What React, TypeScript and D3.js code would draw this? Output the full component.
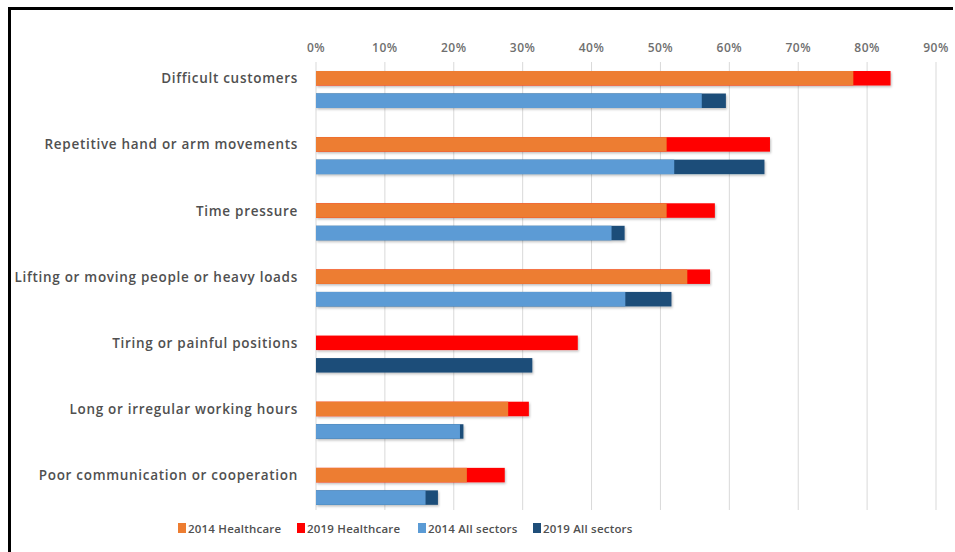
import React from "react";
import * as d3 from "d3";

const categories = [
  "Difficult customers",
  "Repetitive hand or arm movements",
  "Time pressure",
  "Lifting or moving people or heavy loads",
  "Tiring or painful positions",
  "Long or irregular working hours",
  "Poor communication or cooperation",
];
const healthcare2014: (number | null)[] = [0.78, 0.509, 0.509, 0.539, null, 0.279, 0.219];
const healthcare2019: number[] = [0.834, 0.659, 0.579, 0.572, 0.38, 0.309, 0.274];
const allSectors2014: (number | null)[] = [0.56, 0.52, 0.429, 0.449, null, 0.209, 0.159];
const allSectors2019: number[] = [0.595, 0.651, 0.448, 0.516, 0.314, 0.214, 0.177];
const tickValues = [0, 0.1, 0.2, 0.3, 0.4, 0.5, 0.6, 0.7, 0.8, 0.9];
const legendLabels = ["2014 Healthcare", "2019 Healthcare", "2014 All sectors", "2019 All sectors"];

const COLORS = ["#ED7D31", "#FF0000", "#5B9BD5", "#1F4E79"];

export default function App() {
  const W = 955;
  const H = 552;
  const x = d3.scaleLinear().domain([0, 0.9]).range([316, 936]);
  const y = d3.scaleBand().domain(categories).range([56, 519]).paddingInner(0).paddingOuter(0);
  const barH = 14.5;
  const font = "'Open Sans', 'DejaVu Sans', sans-serif";
  const legendX = [178, 297, 418, 533];

  const rows = categories.map((c, i) => {
    const base = y(c)!;
    const yTop = base + 15;
    const yBot = base + 37.5;
    return (
      <g key={c}>
        <rect x={x(0)} y={yTop} width={x(healthcare2019[i]) - x(0)} height={barH} fill={COLORS[1]} />
        {healthcare2014[i] != null && (
          <rect x={x(0)} y={yTop} width={x(healthcare2014[i] as number) - x(0)} height={barH} fill={COLORS[0]} />
        )}
        <rect x={x(0)} y={yBot} width={x(allSectors2019[i]) - x(0)} height={barH} fill={COLORS[3]} />
        {allSectors2014[i] != null && (
          <rect x={x(0)} y={yBot} width={x(allSectors2014[i] as number) - x(0)} height={barH} fill={COLORS[2]} />
        )}
      </g>
    );
  });

  const labels = categories.map((c) => {
    const yTop = y(c)! + 15;
    return (
      <text
        key={c}
        x={298}
        y={yTop + barH / 2}
        textAnchor="end"
        dominantBaseline="central"
        fontFamily={font}
        fontSize={13.5}
        fontWeight={600}
        letterSpacing={0.7}
        fill="#505050"
      >
        {c}
      </text>
    );
  });

  return (
    <svg width={W} height={H} style={{ position: "absolute", left: 0, top: 0, background: "#fff" }}>
      <defs>
        <filter id="sh" x="-5%" y="-30%" width="110%" height="180%">
          <feDropShadow dx="1" dy="1.5" stdDeviation="1" floodColor="#000" floodOpacity="0.25" />
        </filter>
      </defs>
      <rect x={0} y={0} width={W} height={H} fill="#fff" />
      {tickValues.map((t) => (
        <g key={t}>
          <line x1={x(t)} x2={x(t)} y1={62} y2={510} stroke="#d9d9d9" strokeWidth={1} />
          <text
            x={x(t)}
            y={47}
            textAnchor="middle"
            dominantBaseline="central"
            fontFamily={font}
            fontSize={12}
            fontWeight={600}
            letterSpacing={0.5}
            fill="#6f6f6f"
          >
            {d3.format(".0%")(t)}
          </text>
        </g>
      ))}
      <g filter="url(#sh)">{rows}</g>
      {labels}
      {legendLabels.map((l, i) => (
        <g key={l}>
          <rect x={legendX[i]} y={523} width={8} height={10} fill={COLORS[i]} />
          <text
            x={legendX[i] + 10}
            y={528}
            dominantBaseline="central"
            fontFamily={font}
            fontSize={11.5}
            fontWeight={600}
            letterSpacing={0.2}
            fill="#505050"
          >
            {l}
          </text>
        </g>
      ))}
      <line x1={9.5} x2={9.5} y1={7} y2={552} stroke="#000" strokeWidth={3} />
      <line x1={8} x2={953} y1={8.5} y2={8.5} stroke="#000" strokeWidth={3} />
    </svg>
  );
}
